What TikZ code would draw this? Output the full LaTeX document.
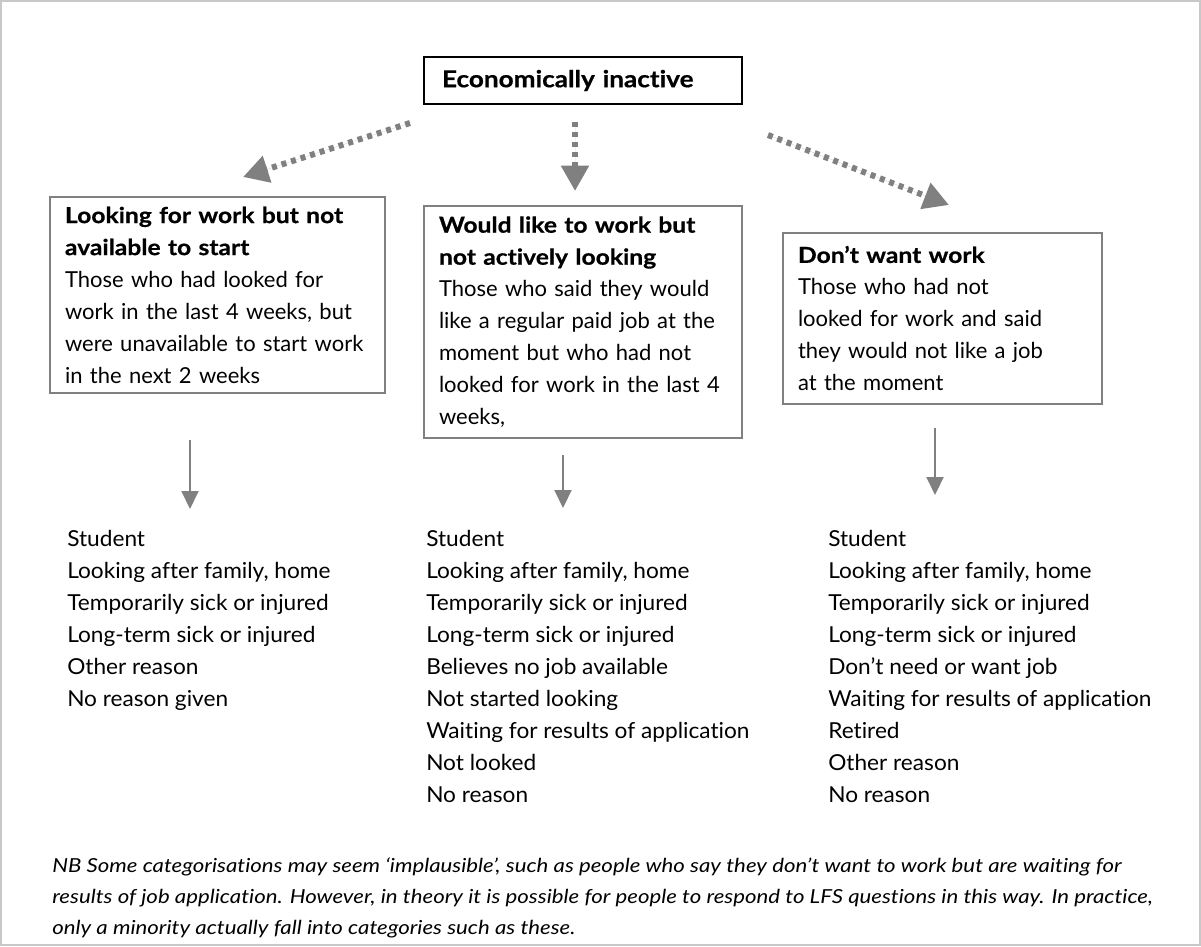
\documentclass[tikz,border=0pt]{standalone}
\usepackage{fontspec}
\setmainfont{Lato}[Ligatures=NoCommon,
  BoldFeatures={FakeStretch=1.12, FakeBold=0.6},
  ItalicFeatures={FakeStretch=1.15}]
\newfontfamily\reasonfont{Lato}[Ligatures=NoCommon, FakeStretch=1.03]
\usetikzlibrary{arrows.meta, positioning}
\definecolor{boxgrey}{RGB}{128,128,128}
\definecolor{framegrey}{RGB}{200,200,200}
\tikzset{
  catbox/.style={rectangle, draw=boxgrey, line width=1.5pt, align=left,
    inner xsep=11.25pt, inner ysep=0pt, font=\fontsize{16.5}{24}\selectfont},
  topbox/.style={rectangle, draw=black, line width=1.9pt, align=left,
    inner xsep=13.5pt, inner ysep=0pt, font=\fontsize{17.5}{24}\selectfont\bfseries},
  reasons/.style={anchor=north west, align=left, inner sep=0pt,
    font=\reasonfont\fontsize{16.5}{24}\selectfont},
  note/.style={anchor=north west, align=left, inner sep=0pt,
    font=\fontsize{14.5}{23.25}\selectfont\itshape},
  dotarrow/.style={-{Triangle[length=19pt, width=20pt]}, draw=boxgrey, fill=boxgrey,
    line width=4.5pt, dash pattern=on 3.75pt off 3.75pt},
  arrow/.style={-{Triangle[length=13.5pt, width=12.75pt]}, draw=boxgrey, fill=boxgrey,
    line width=1.5pt}
}
\begin{document}
\begin{tikzpicture}[x=0.75pt, y=-0.75pt]
  \useasboundingbox (0,0) rectangle (1201,946);
  \draw[framegrey, line width=1.5pt] (1,1) rectangle (1200,945);

  % headline
  \node[topbox, text width=211.5pt, minimum width=238.5pt, minimum height=35.25pt] (inactive) at (583,80.5) {Economically inactive};

  % three groups
  \node[catbox, text width=228.75pt, minimum width=251.25pt, minimum height=147pt] (notavail) at (217.5,295)
    {\textbf{Looking for work but not}\\ \textbf{available to start}\\ Those who had looked for\\ work in the last 4 weeks, but\\ were unavailable to start work\\ in the next 2 weeks};
  \node[catbox, text width=216pt, minimum width=238.5pt, minimum height=174pt] (notlooking) at (583,322)
    {\textbf{Would like to work but}\\ \textbf{not actively looking}\\ Those who said they would\\ like a regular paid job at the\\ moment but who had not\\ looked for work in the last 4\\ weeks,};
  \node[catbox, text width=216.75pt, minimum width=239.25pt, minimum height=128.25pt] (nowant) at (942.5,318.5)
    {\textbf{Don’t want work}\\ Those who had not\\ looked for work and said\\ they would not like a job\\ at the moment};

  % reasons
  \node[reasons] (reasonsA) at (67,530) {Student\\ Looking after family, home\\ Temporarily sick or injured\\ Long-term sick or injured\\ Other reason\\ No reason given};
  \node[reasons] (reasonsB) at (426,530) {Student\\ Looking after family, home\\ Temporarily sick or injured\\ Long-term sick or injured\\ Believes no job available\\ Not started looking\\ Waiting for results of application\\ Not looked\\ No reason};
  \node[reasons] (reasonsC) at (828,530) {Student\\ Looking after family, home\\ Temporarily sick or injured\\ Long-term sick or injured\\ Don’t need or want job\\ Waiting for results of application\\ Retired\\ Other reason\\ No reason};

  % dotted arrows
  \coordinate (dA0) at (410,123); \coordinate (dA1) at (243,177);
  \coordinate (dB0) at (575,122); \coordinate (dB1) at (575,191);
  \coordinate (dC0) at (768,135); \coordinate (dC1) at (949,205);
  \draw[dotarrow] (dA0) -- (dA1);
  \draw[dotarrow] (dB0) -- (dB1);
  \draw[dotarrow] (dC0) -- (dC1);

  % solid arrows
  \coordinate (sA0) at (190,440); \coordinate (sA1) at (190,509);
  \coordinate (sB0) at (563,455); \coordinate (sB1) at (563,508);
  \coordinate (sC0) at (935,428); \coordinate (sC1) at (935,495);
  \draw[arrow] (sA0) -- (sA1);
  \draw[arrow] (sB0) -- (sB1);
  \draw[arrow] (sC0) -- (sC1);

  \node[note] (nb) at (52,857) {NB Some categorisations may seem ‘implausible’, such as people who say they don’t want to work but are waiting for\\ results of job application. However, in theory it is possible for people to respond to LFS questions in this way. In practice,\\ only a minority actually fall into categories such as these.};
\end{tikzpicture}
\end{document}
